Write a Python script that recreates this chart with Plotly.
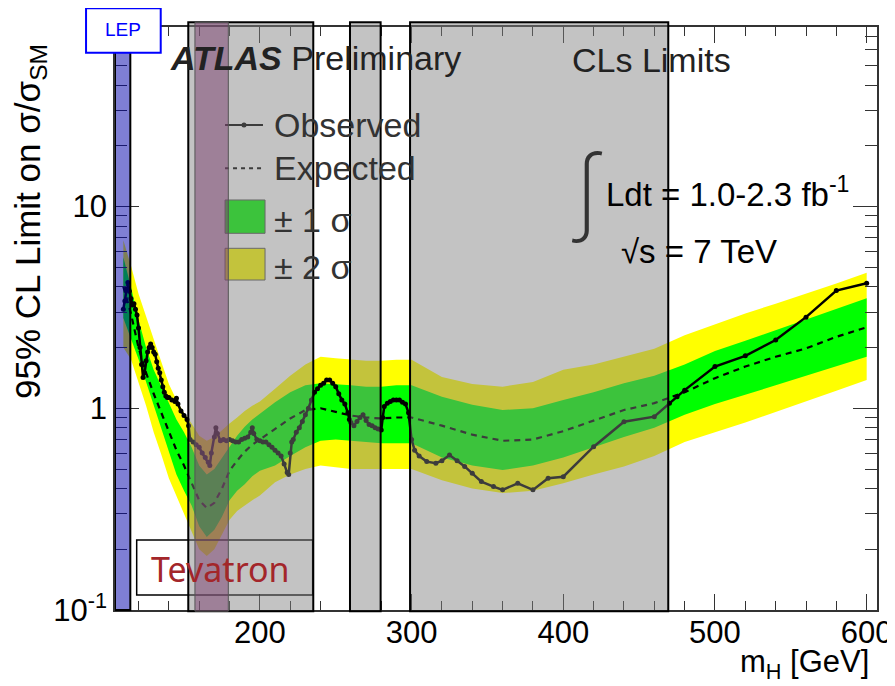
import plotly.graph_objects as go

# ---------------- data ----------------
mass_band = [110, 115, 120, 125, 130, 135, 140, 145, 150, 155, 160, 165, 170, 175,
             180, 185, 190, 195, 200, 210, 220, 230, 240, 250, 260, 270, 280, 290,
             300, 320, 340, 360, 380, 400, 420, 440, 460, 480, 500, 520, 540, 560,
             580, 600]
expected = [4.0, 2.95, 2.0, 1.5, 1.18, 0.95, 0.78, 0.62, 0.52, 0.43, 0.35, 0.32, 0.34, 0.40,
            0.49, 0.55, 0.61, 0.66, 0.70, 0.79, 0.89, 0.98, 1.0, 0.96, 0.92, 0.90, 0.89, 0.90,
            0.90, 0.82, 0.74, 0.69, 0.70, 0.77, 0.87, 0.98, 1.06, 1.2, 1.41, 1.61, 1.80, 1.98,
            2.26, 2.52]
one_sigma_up = [5.6, 4.0, 2.75, 2.0, 1.55, 1.28, 1.05, 0.88, 0.76, 0.64, 0.52, 0.47, 0.50, 0.57,
                0.65, 0.73, 0.81, 0.88, 0.94, 1.07, 1.2, 1.3, 1.33, 1.32, 1.30, 1.28, 1.28, 1.30,
                1.30, 1.14, 1.04, 0.98, 1.0, 1.1, 1.2, 1.33, 1.45, 1.65, 1.92, 2.16, 2.44, 2.75,
                3.1, 3.51]
one_sigma_dn = [2.8, 2.2, 1.75, 1.35, 1.05, 0.80, 0.61, 0.47, 0.39, 0.33, 0.26, 0.23, 0.25, 0.29,
                0.35, 0.39, 0.42, 0.46, 0.49, 0.52, 0.58, 0.64, 0.69, 0.70, 0.69, 0.68, 0.67, 0.67,
                0.67, 0.57, 0.52, 0.494, 0.52, 0.57, 0.64, 0.72, 0.80, 0.93, 1.05, 1.17, 1.30, 1.45,
                1.62, 1.80]
two_sigma_up = [6.8, 5.1, 3.7, 2.85, 2.15, 1.7, 1.32, 1.1, 0.95, 0.84, 0.73, 0.69, 0.72, 0.78,
                0.84, 0.90, 0.97, 1.03, 1.08, 1.25, 1.45, 1.65, 1.80, 1.77, 1.74, 1.72, 1.72, 1.74,
                1.74, 1.43, 1.32, 1.28, 1.35, 1.55, 1.65, 1.80, 1.97, 2.3, 2.6, 2.95, 3.3, 3.7,
                4.15, 4.70]
two_sigma_dn = [2.0, 1.75, 1.35, 1.03, 0.76, 0.59, 0.45, 0.36, 0.30, 0.245, 0.20, 0.185, 0.20, 0.235,
                0.28, 0.31, 0.33, 0.35, 0.37, 0.43, 0.47, 0.50, 0.52, 0.51, 0.50, 0.50, 0.50, 0.50,
                0.50, 0.44, 0.40, 0.38, 0.39, 0.425, 0.47, 0.515, 0.58, 0.68, 0.76, 0.85, 0.96, 1.08,
                1.22, 1.38]

mass_obs = [110, 111, 112, 113, 114, 115, 116, 117, 118, 119, 120, 121, 122, 123, 124, 125,
            126, 127, 128, 129, 130, 131, 132, 133, 134, 135, 136, 137, 138, 139, 140, 142,
            144, 145, 146, 148, 150, 152, 153, 154, 156, 158, 160, 162, 164, 166, 167, 168,
            170, 171, 172, 174, 176, 178, 180, 182, 184, 186, 188, 190, 192, 194, 195, 196,
            198, 200, 202, 204, 206, 208, 210, 212, 214, 216, 218, 219, 220, 221, 222, 224,
            226, 228, 230, 232, 234, 236, 238, 240, 242, 244, 246, 248, 250, 252, 254, 256,
            258, 259, 260, 262, 264, 266, 268, 270, 272, 274, 276, 278, 280, 281, 282, 284,
            286, 288, 290, 292, 294, 296, 298, 300, 302, 305, 310, 316, 320, 325, 330, 335,
            340, 346, 354, 360, 370, 380, 390, 400, 420, 440, 460, 470, 475, 480, 500, 520,
            540, 560, 580, 600]
observed = [3.1, 3.4, 3.9, 4.2, 3.8, 3.5, 3.25, 3.3, 3.1, 2.9, 2.5, 2.0, 1.65, 1.42, 1.5, 1.72,
            1.9, 2.0, 2.08, 2.0, 1.9, 1.85, 1.7, 1.58, 1.5, 1.38, 1.28, 1.2, 1.15, 1.13, 1.13, 1.1,
            1.08, 1.12, 1.05, 0.97, 0.92, 0.88, 0.82, 0.70, 0.68, 0.66, 0.64, 0.60, 0.57, 0.54, 0.52, 0.60,
            0.72, 0.80, 0.75, 0.69, 0.70, 0.69, 0.70, 0.69, 0.68, 0.68, 0.70, 0.71, 0.72, 0.76, 0.80, 0.75,
            0.70, 0.69, 0.68, 0.68, 0.66, 0.64, 0.62, 0.60, 0.58, 0.53, 0.48, 0.47, 0.60, 0.68, 0.70, 0.76,
            0.80, 0.86, 0.93, 1.0, 1.1, 1.2, 1.25, 1.30, 1.33, 1.38, 1.38, 1.33, 1.28, 1.18, 1.10, 1.05,
            0.95, 0.88, 0.85, 0.82, 0.86, 0.90, 0.93, 0.87, 0.83, 0.82, 0.80, 0.79, 0.78, 0.90, 1.02, 1.06,
            1.08, 1.10, 1.10, 1.10, 1.07, 1.05, 0.95, 0.70, 0.62, 0.58, 0.544, 0.534, 0.55, 0.587, 0.55, 0.515,
            0.476, 0.433, 0.409, 0.394, 0.425, 0.394, 0.45, 0.458, 0.645, 0.858, 0.909, 1.06, 1.14, 1.23, 1.61, 1.82,
            2.18, 2.83, 3.83, 4.17]

# excluded ranges [GeV]
atlas_excl_lo = [152.8, 259.4, 299.0]
atlas_excl_hi = [235.2, 279.6, 469.2]
tevatron_excl = [157.2, 179.2]
lep_limit = 114.6

x_range = [104.5, 606.8]
y_log_range = [-1, 1.89]

y_tickvals = [0.1, 1, 10]
y_ticktext = ["10<sup>-1</sup>", "1", "10"]
x_tickvals = [200, 300, 400, 500, 600]

FONT = "Liberation Sans, Arial, Helvetica, sans-serif"

fig = go.Figure()

# +-2 sigma band
fig.add_trace(go.Scatter(
    x=mass_band + mass_band[::-1], y=two_sigma_up + two_sigma_dn[::-1],
    fill="toself", fillcolor="#ffff00", line=dict(width=0), mode="lines",
    hoverinfo="skip", showlegend=False))
# +-1 sigma band
fig.add_trace(go.Scatter(
    x=mass_band + mass_band[::-1], y=one_sigma_up + one_sigma_dn[::-1],
    fill="toself", fillcolor="#00ff00", line=dict(width=0), mode="lines",
    hoverinfo="skip", showlegend=False))
# expected
fig.add_trace(go.Scatter(
    x=mass_band, y=expected, mode="lines",
    line=dict(color="black", width=2.2, dash="6px,5px"), showlegend=False))
# observed
fig.add_trace(go.Scatter(
    x=mass_obs, y=observed, mode="lines+markers",
    line=dict(color="black", width=2.5),
    marker=dict(color="black", size=5, symbol="circle"), showlegend=False))

shapes = []
# SM line at 1
shapes.append(dict(type="line", xref="paper", yref="y", x0=0, x1=1, y0=0, y1=0,
                   line=dict(color="#9a9a9a", width=2, dash="6px,5px"), layer="above"))

# manual legend (drawn below the grey overlays)
leg_x0, leg_x1 = 0.1444, 0.1942
shapes.append(dict(type="line", xref="paper", yref="paper", x0=leg_x0, x1=leg_x1,
                   y0=0.8319, y1=0.8319, line=dict(color="black", width=2), layer="above"))
shapes.append(dict(type="circle", xref="paper", yref="paper", x0=0.1660, x1=0.1726,
                   y0=0.8276, y1=0.8362, fillcolor="black", line=dict(width=0), layer="above"))
shapes.append(dict(type="line", xref="paper", yref="paper", x0=leg_x0, x1=leg_x1,
                   y0=0.7576, y1=0.7576, line=dict(color="black", width=2, dash="4px,4px"),
                   layer="above"))
shapes.append(dict(type="rect", xref="paper", yref="paper", x0=0.1444, x1=0.1969,
                   y0=0.6461, y1=0.7033, fillcolor="#00ff00", line=dict(color="#555", width=1),
                   layer="above"))
shapes.append(dict(type="rect", xref="paper", yref="paper", x0=0.1444, x1=0.1969,
                   y0=0.5660, y1=0.6204, fillcolor="#ffff00", line=dict(color="#555", width=1),
                   layer="above"))

# Tevatron box (below overlays)
shapes.append(dict(type="rect", xref="x", yref="paper", x0=118.8, x1=234.8,
                   y0=0.0257, y1=0.12, line=dict(color="black", width=1.5), layer="above"))

# ATLAS excluded (grey, translucent)
for lo, hi in zip(atlas_excl_lo, atlas_excl_hi):
    shapes.append(dict(type="rect", xref="x", yref="paper", x0=lo, x1=hi, y0=-0.002, y1=1.008,
                       fillcolor="rgba(128,128,128,0.47)", line=dict(color="black", width=2),
                       layer="above"))
# Tevatron excluded (purple, translucent)
shapes.append(dict(type="rect", xref="x", yref="paper", x0=tevatron_excl[0], x1=tevatron_excl[1],
                   y0=-0.002, y1=1.008, fillcolor="rgba(121,61,109,0.5)",
                   line=dict(color="#555", width=1), layer="above"))
# LEP excluded
shapes.append(dict(type="rect", xref="x", yref="paper", x0=x_range[0], x1=lep_limit,
                   y0=0, y1=0.96, fillcolor="rgba(0,0,170,0.5)",
                   line=dict(color="black", width=2), layer="above"))
# LEP label box
shapes.append(dict(type="rect", xref="paper", yref="paper", x0=-0.038, x1=0.060,
                   y0=0.956, y1=1.032, fillcolor="white", line=dict(color="#0000ff", width=2),
                   layer="above"))

annotations = []
def ann(text, x, y, size, color="black", xanchor="left", yanchor="middle", family=FONT, **kw):
    annotations.append(dict(text=text, x=x, y=y, xref="paper", yref="paper", showarrow=False,
                            xanchor=xanchor, yanchor=yanchor,
                            font=dict(family=family, size=size, color=color, **kw.pop("fkw", {})),
                            **kw))

ann("<b><i>ATLAS</i></b> Preliminary", (168 - 115) / 762, (610 - 58) / 583, 34, color="#222")
ann("CLs Limits", (570 - 115) / 762, (610 - 60) / 583, 34, color="#222")
ann("\u222b", (569 - 115) / 762, (610 - 188) / 583, 92, color="#333",
    family="Inter, DejaVu Sans", fkw=dict(weight=200))
ann("Ldt = 1.0-2.3 fb<sup>-1</sup>", (604 - 115) / 762, (610 - 192) / 583, 33)
ann("\u221as = 7 TeV", (619 - 115) / 762, (610 - 251) / 583, 33)

ann("Observed", 0.2060, 0.8319, 34, color="#333")
ann("Expected", 0.2060, 0.7576, 34, color="#333")
ann("\u00b1 1 \u03c3", 0.2060, 0.669, 34, color="#333")
ann("\u00b1 2 \u03c3", 0.2060, 0.5889, 34, color="#333")

ann("Tevatron", (220 - 115) / 762, (610 - 569) / 583, 34, color="#a3262a", xanchor="center",
    family="Noto Sans, DejaVu Sans")
ann("LEP", (123 - 115) / 762, (610 - 30) / 583, 19, color="#0000ff", xanchor="center")

ann("m<sub>H</sub> [GeV]", 0.992, (610 - 664) / 583, 31, xanchor="right")
ann("95% CL Limit on \u03c3/\u03c3<sub>SM</sub>", (30 - 115) / 762, (610 - 222) / 583, 35,
    xanchor="center", textangle=-90)

# the page body adds an 8px offset, so margins are set 8px smaller on the top/left
fig.update_layout(
    width=895, height=686,
    margin=dict(l=107, r=26, t=19, b=84),
    paper_bgcolor="white", plot_bgcolor="white",
    font=dict(family=FONT, size=31, color="black"),
    shapes=shapes, annotations=annotations,
    showlegend=False,
)
fig.update_xaxes(
    range=x_range, tickvals=x_tickvals, ticks="inside", ticklen=16, tickwidth=1.2,
    tickcolor="#333", showline=True, linecolor="#333", linewidth=1.5, mirror="ticks",
    showgrid=False, zeroline=False, tickfont=dict(size=31), automargin=False,
    ticklabelstandoff=-6,
    minor=dict(ticks="inside", ticklen=9, dtick=20, tick0=100, tickcolor="#333", showgrid=False),
)
fig.update_yaxes(
    type="log", range=y_log_range, tickvals=y_tickvals, ticktext=y_ticktext,
    ticks="inside", ticklen=24, tickwidth=1.2, tickcolor="#333",
    showline=True, linecolor="#333", linewidth=1.5, mirror="ticks",
    showgrid=False, zeroline=False, tickfont=dict(size=31), automargin=False,
    minor=dict(ticks="inside", ticklen=12, dtick="D1", tickcolor="#333", showgrid=False),
)

fig.write_html("out.html")
